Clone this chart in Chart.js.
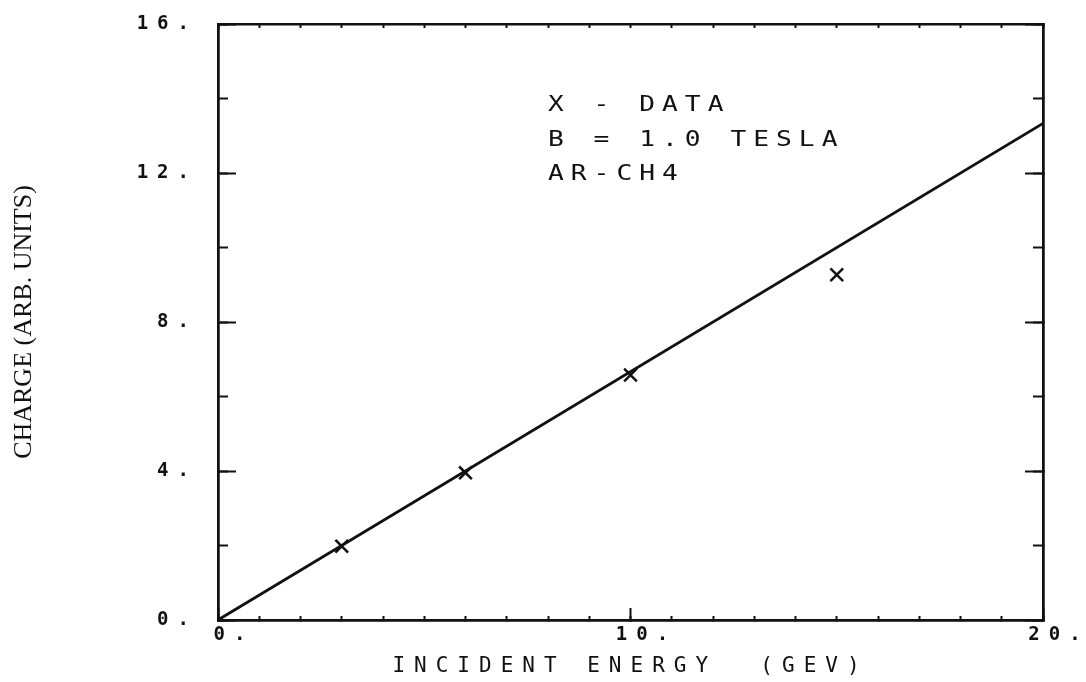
<!DOCTYPE html>
<html>
<head>
<meta charset="utf-8">
<title>Charge vs incident energy</title>
<script src="https://cdn.jsdelivr.net/npm/chart.js"></script>
<style>
  html, body { margin: 0; padding: 0; background: #fff; }
</style>
</head>
<body>
<canvas id="chargeChart" width="1086" height="682"></canvas>
<script>
var energy = [3, 6, 10, 15];
var charge = [1.98, 3.95, 6.58, 9.27];

// straight-line fit drawn through the data
var fitEnergy = [0, 20];
var fitCharge = [0, 13.33];

var xTickLabels = ['0.', '10.', '20.'];
var yTickLabels = ['0.', '4.', '8.', '12.', '16.'];

var noteLines = ['X - DATA', 'B = 1.0 TESLA', 'AR-CH4'];
var noteX = 8;
var noteY = [13.8, 12.86, 11.95];

var xTitle = 'INCIDENT ENERGY  (GEV)';
var yTitle = 'CHARGE (ARB. UNITS)';

var ink = '#111';
var plotFont = '"DejaVu Sans Mono", monospace';

function toPoints(xs, ys) {
    var pts = [];
    for (var i = 0; i < xs.length; i++) {
        pts.push({x: xs[i], y: ys[i]});
    }
    return pts;
}

// frame edge with inward tick marks only
function edgeScale(position, max, step, tickLen, weight, size) {
    return {
        type: 'linear',
        position: position,
        min: 0,
        max: max,
        weight: weight,
        border: {display: true, color: ink, width: 2.5},
        grid: {drawOnChartArea: false, tickLength: tickLen, tickColor: ink, tickWidth: 2},
        ticks: {display: false, stepSize: step},
        afterFit: function(scale) {
            if (scale.isHorizontal()) scale.height = size; else scale.width = size;
        }
    };
}

var plotText = {
    id: 'plotText',
    beforeDraw: function(chart) {
        chart.ctx.letterSpacing = '9px';
    },
    afterDatasetsDraw: function(chart) {
        var ctx = chart.ctx;
        var xs = chart.scales.x, ys = chart.scales.y;
        ctx.font = '21px ' + plotFont;
        ctx.fillStyle = ink;
        ctx.textAlign = 'left';
        ctx.textBaseline = 'middle';
        for (var i = 0; i < noteLines.length; i++) {
            ctx.save();
            ctx.letterSpacing = '5.6px';
            ctx.translate(xs.getPixelForValue(noteX), ys.getPixelForValue(noteY[i]));
            ctx.scale(1.25, 1);
            ctx.fillText(noteLines[i], 0, 0);
            ctx.restore();
        }
    },
    afterDraw: function(chart) {
        var ctx = chart.ctx;
        var ca = chart.chartArea;
        ctx.save();
        ctx.letterSpacing = '0px';
        ctx.translate(24, (ca.top + ca.bottom) / 2);
        ctx.rotate(-Math.PI / 2);
        ctx.font = '26px "Liberation Serif", serif';
        ctx.fillStyle = ink;
        ctx.textAlign = 'center';
        ctx.textBaseline = 'middle';
        ctx.fillText(yTitle, 0, 0);
        ctx.restore();
    }
};

var scales = {
    x: {
        type: 'linear',
        position: 'bottom',
        min: 0,
        max: 20,
        weight: 1,
        border: {display: true, color: ink, width: 2.5},
        grid: {drawOnChartArea: false, tickLength: -12, tickColor: ink, tickWidth: 2},
        ticks: {
            stepSize: 10,
            padding: 16,
            labelOffset: 16,
            color: ink,
            font: {family: plotFont, size: 19, weight: 'bold'},
            callback: function(value, index) { return xTickLabels[index]; }
        },
        title: {
            display: true,
            text: xTitle,
            color: ink,
            font: {family: plotFont, size: 21},
            padding: {top: 0, bottom: 3}
        },
        afterFit: function(scale) { scale.height = 62; }
    },
    xMinor: edgeScale('bottom', 20, 1, -4, 0, 0),
    xTop: edgeScale('top', 20, 1, -4, 0, 0),
    y: {
        type: 'linear',
        position: 'left',
        min: 0,
        max: 16,
        weight: 1,
        border: {display: true, color: ink, width: 2.5},
        grid: {drawOnChartArea: false, tickLength: -18, tickColor: ink, tickWidth: 2},
        ticks: {
            stepSize: 4,
            padding: 38,
            color: ink,
            font: {family: plotFont, size: 19, weight: 'bold'},
            callback: function(value, index) { return yTickLabels[index]; }
        },
        afterFit: function(scale) {
            scale.width = 218;
            scale.paddingTop = 0;
            scale.paddingBottom = 0;
        }
    },
    yMinor: edgeScale('left', 16, 2, -10, 0, 0),
    yRight: edgeScale('right', 16, 2, -10, 0, 0),
    yRightMajor: edgeScale('right', 16, 4, -18, 1, 0)
};

var ctx = document.getElementById('chargeChart');
var chargeChart = new Chart(ctx, {
    type: 'scatter',
    data: {
        datasets: [
            {
                label: 'fit',
                data: toPoints(fitEnergy, fitCharge),
                showLine: true,
                fill: false,
                borderColor: ink,
                borderWidth: 2.8,
                pointRadius: 0,
                xAxisID: 'x',
                yAxisID: 'y'
            },
            {
                label: 'DATA',
                data: toPoints(energy, charge),
                showLine: false,
                pointStyle: 'crossRot',
                pointRadius: 9,
                borderColor: ink,
                borderWidth: 2.5,
                xAxisID: 'x',
                yAxisID: 'y'
            }
        ]
    },
    options: {
        responsive: false,
        animation: false,
        layout: {padding: {left: 0, right: 43, top: 24, bottom: 0}},
        plugins: {legend: {display: false}, tooltip: {enabled: false}},
        scales: scales
    },
    plugins: [plotText]
});
</script>
</body>
</html>
